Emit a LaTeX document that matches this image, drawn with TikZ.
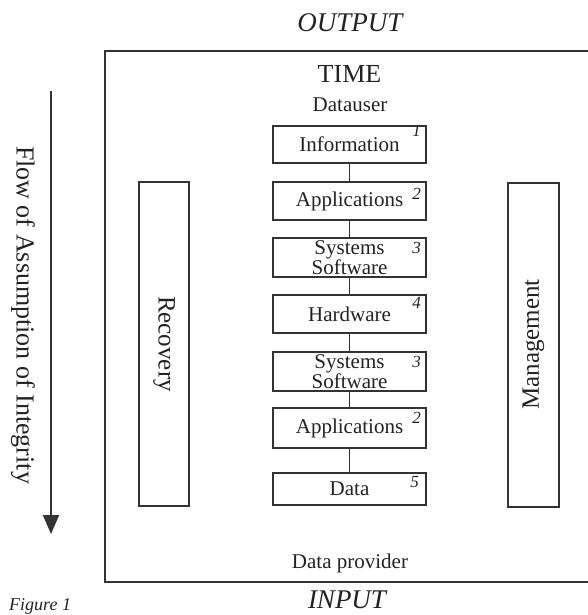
\documentclass[tikz,border=0pt]{standalone}
\usepackage{fontspec}
\setmainfont{Liberation Serif}
\usetikzlibrary{arrows.meta,calc}
\definecolor{ink}{HTML}{333333}
\definecolor{txt}{HTML}{222222}
\begin{document}
\begin{tikzpicture}[x=1pt,y=-1pt,
  box/.style={draw=ink, line width=2pt, minimum width=153pt, inner sep=0pt,
    font=\fontsize{21}{18}\selectfont, text=txt, align=center},
  num/.style={font=\fontsize{17}{17}\selectfont\itshape, text=txt, inner sep=0pt, anchor=north east},
  sidebox/.style={draw=ink, line width=2pt, minimum width=324pt, inner sep=0pt,
    font=\fontsize{25}{25}\selectfont, text=txt},
  link/.style={draw=ink, line width=1.5pt},
  lbl/.style={text=txt, inner sep=0pt}]
\useasboundingbox (0,0) rectangle (588,615);
% outer frame (right side lies beyond the picture)
\coordinate (f1) at (588,51);
\coordinate (f2) at (105,51);
\coordinate (f3) at (105,582);
\coordinate (f4) at (588,582);
\draw[ink, line width=2.5pt] (f1) -- (f2) -- (f3) -- (f4);
% headings
\node[lbl, anchor=base, font=\fontsize{27}{27}\selectfont\itshape] (out) at (350,32) {OUTPUT};
\node[lbl, anchor=base, font=\fontsize{27}{27}\selectfont\itshape] (inp) at (347,608) {INPUT};
\node[lbl, anchor=base, font=\fontsize{26}{26}\selectfont] (time) at (349.5,83) {TIME};
\node[lbl, anchor=base, font=\fontsize{21}{21}\selectfont] (user) at (350,112) {Datauser};
\node[lbl, anchor=base, font=\fontsize{21}{21}\selectfont] (prov) at (350,568) {Data provider};
\node[lbl, anchor=base west, font=\fontsize{18}{18}\selectfont\itshape] (fig) at (9,610) {Figure 1};
% stack of layers
\node[box, minimum height=37pt] (info) at (349.5,144.5) {Information};
\node[box, minimum height=38pt] (app1) at (349.5,201) {Applications};
\node[box, minimum height=39pt] (sys1) at (349.5,257.5) {Systems\\Software};
\node[box, minimum height=38pt] (hw)   at (349.5,314) {Hardware};
\node[box, minimum height=39pt] (sys2) at (349.5,371.5) {Systems\\Software};
\node[box, minimum height=40pt] (app2) at (349.5,428) {Applications};
\node[box, minimum height=32pt] (data) at (349.5,489) {Data};
\node[num] (n1) at ($(info.north east)+(-6,0)$) {1};
\node[num] (n2) at ($(app1.north east)+(-6,7)$) {2};
\node[num] (n3) at ($(sys1.north east)+(-6,5)$) {3};
\node[num] (n4) at ($(hw.north east)+(-6,3)$) {4};
\node[num] (n5) at ($(sys2.north east)+(-6,5)$) {3};
\node[num] (n6) at ($(app2.north east)+(-6,5)$) {2};
\node[num] (n7) at ($(data.north east)+(-8,4)$) {5};
\draw[link] (info) -- (app1);
\draw[link] (app1) -- (sys1);
\draw[link] (sys1) -- (hw);
\draw[link] (hw) -- (sys2);
\draw[link] (sys2) -- (app2);
\draw[link] (app2) -- (data);
% side boxes
\node[sidebox, minimum height=50pt, rotate=-90] (rec) at (164,344) {Recovery};
\node[sidebox, minimum height=51pt, rotate=90] (mgmt) at (533.5,344.5) {Management};
% flow arrow
\coordinate (a0) at (51,91);
\coordinate (a1) at (51,534);
\draw[ink, line width=2pt, -{Triangle[length=19pt,width=16pt]}] (a0) -- (a1);
\node[lbl, rotate=-90, font=\fontsize{26}{26}\selectfont] (flow) at (23,315) {Flow of Assumption of Integrity};
\end{tikzpicture}
\end{document}
